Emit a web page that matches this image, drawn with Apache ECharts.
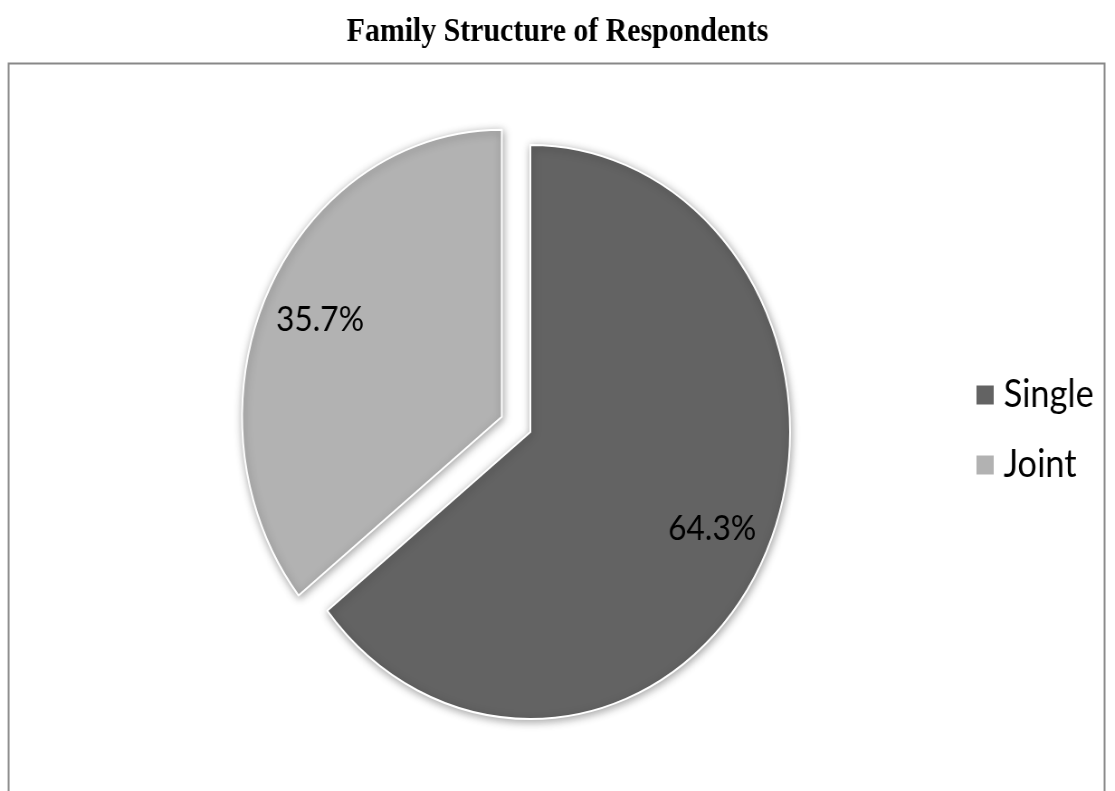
<!DOCTYPE html>
<html>
<head>
<meta charset="utf-8">
<title>Family Structure of Respondents</title>
<script src="https://cdn.jsdelivr.net/npm/echarts@6/dist/echarts.min.js"></script>
<style>
  html, body { margin: 0; padding: 0; background: #ffffff; overflow: hidden; width: 1115px; height: 791px; }
  /* the chart is laid out on a wider canvas and narrowed horizontally */
  #chart { width: 1232px; height: 791px; transform: scaleX(0.905); transform-origin: 0 0; }
</style>
</head>
<body>
<div id="chart"></div>
<script>
// Family structure shares (percent of respondents)
const categories = ['Single', 'Joint'];
const shares = [64.3, 35.7];
const sliceColors = ['#636363', '#b2b2b2'];
const explodedCategory = 'Joint';

const chart = echarts.init(document.getElementById('chart'), null, { renderer: 'canvas' });

const pieCenter = [586, 432];
const pieRadius = 287;
const explodeOffset = 35;

function sliceData(withColor) {
  return categories.map((name, i) => ({
    name: name,
    value: shares[i],
    selected: name === explodedCategory,
    itemStyle: withColor ? { color: sliceColors[i] } : { color: 'rgba(0,0,0,0)' }
  }));
}

const option = {
  backgroundColor: '#ffffff',
  animation: false,
  color: sliceColors,
  title: {
    text: 'Family Structure of Respondents',
    left: 'center',
    top: 11,
    textStyle: {
      fontFamily: '"Liberation Serif", "Times New Roman", serif',
      fontWeight: 'bold',
      fontSize: 33,
      color: '#000000'
    }
  },
  legend: {
    orient: 'vertical',
    left: 1077,
    top: 376,
    padding: 0,
    icon: 'rect',
    itemWidth: 21,
    itemHeight: 21,
    itemGap: 32,
    selectedMode: false,
    data: categories,
    textStyle: {
      fontFamily: 'Lato, "Open Sans", sans-serif',
      fontSize: 38,
      color: '#000000',
      padding: [0, 0, 0, 5]
    }
  },
  graphic: [
    {
      type: 'rect',
      silent: true,
      z: -10,
      shape: { x: 9.5, y: 63.5, width: 1211, height: 800 },
      style: { fill: 'none', stroke: '#888888', lineWidth: 2 }
    }
  ],
  series: [
    {
      name: 'Family Structure',
      type: 'pie',
      center: pieCenter,
      radius: [0, pieRadius],
      startAngle: 90,
      clockwise: true,
      selectedMode: 'single',
      selectedOffset: explodeOffset,
      avoidLabelOverlap: false,
      label: { show: false },
      labelLine: { show: false },
      emphasis: { disabled: true },
      itemStyle: {
        borderColor: '#ffffff',
        borderWidth: 2,
        shadowBlur: 8,
        shadowColor: 'rgba(0,0,0,0.35)',
        shadowOffsetX: 1,
        shadowOffsetY: 2
      },
      data: sliceData(true)
    },
    {
      // transparent ring that carries the percentage labels further out
      name: 'Family Structure labels',
      type: 'pie',
      silent: true,
      center: pieCenter,
      radius: [153, pieRadius],
      startAngle: 90,
      clockwise: true,
      selectedMode: 'single',
      selectedOffset: explodeOffset,
      avoidLabelOverlap: false,
      emphasis: { disabled: true },
      labelLine: { show: false },
      itemStyle: { borderWidth: 0, color: 'rgba(0,0,0,0)' },
      label: {
        show: true,
        position: 'inside',
        formatter: p => p.value.toFixed(1) + '%',
        fontFamily: 'Lato, "Open Sans", sans-serif',
        fontSize: 35,
        color: '#000000'
      },
      data: sliceData(false)
    }
  ]
};

chart.setOption(option);
</script>
</body>
</html>
